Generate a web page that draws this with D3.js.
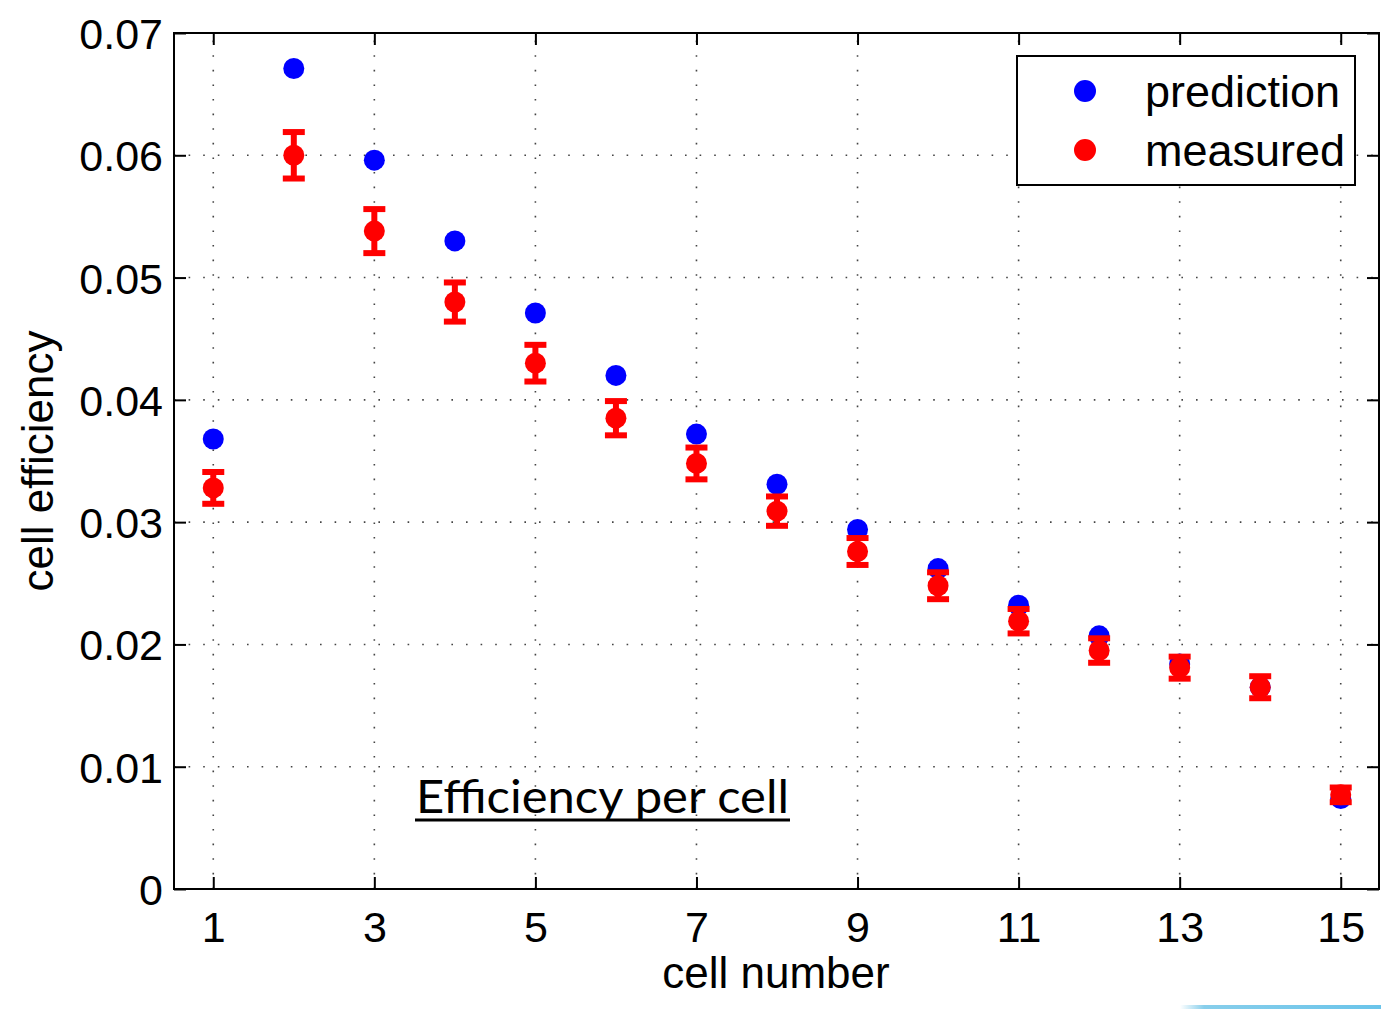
<!DOCTYPE html>
<html><head><meta charset="utf-8">
<script src="https://cdn.jsdelivr.net/npm/d3@7"></script>
<style>
html,body{margin:0;padding:0;background:#fff;}
svg{display:block;}
text{font-family:"Liberation Sans",Arial,Helvetica,sans-serif;fill:#000;}
</style></head>
<body>
<script>
const cells = [1,2,3,4,5,6,7,8,9,10,11,12,13,14,15];
const prediction = [0.0368,0.0671,0.0596,0.0530,0.0471,0.0420,0.0372,0.0331,0.0294,0.0262,0.0232,0.0207,0.0184,0.0165,0.0074];
const measured = [0.0328,0.0600,0.0538,0.0480,0.0430,0.0385,0.0348,0.0309,0.0276,0.0248,0.0219,0.0195,0.0181,0.0165,0.0077];
const measuredErr = [0.0013,0.0019,0.0018,0.0016,0.0015,0.0014,0.0013,0.0012,0.0011,0.0011,0.0010,0.0010,0.0009,0.0009,0.0006];
const xTicks = [1,3,5,7,9,11,13,15];
const yTicks = [0,0.01,0.02,0.03,0.04,0.05,0.06,0.07];
const yTickLabels = ["0","0.01","0.02","0.03","0.04","0.05","0.06","0.07"];
const seriesNames = ["prediction","measured"];
const seriesColors = ["#0000ff","#ff0000"];

const W = 1381, H = 1010;
const L = 174, R = 1379, T = 33, B = 889;

const svg = d3.select("body").append("svg").attr("width", W).attr("height", H);

const x = d3.scaleLinear().domain([0.5, 15.5]).range([173, 1381]);
const y = d3.scaleLinear().domain([0, 0.07]).range([B, T]);

// grid
const grid = svg.append("g").attr("stroke", "#444").attr("stroke-width", 1.6).attr("stroke-dasharray", "1.6,13");
grid.selectAll("line.gx").data(xTicks).join("line")
  .attr("x1", d => x(d)).attr("x2", d => x(d)).attr("y1", B).attr("y2", T);
grid.selectAll("line.gy").data(yTicks.filter(d => d > 0)).join("line")
  .attr("y1", d => y(d)).attr("y2", d => y(d)).attr("x1", L).attr("x2", R);

// frame
svg.append("rect").attr("x", L).attr("y", T).attr("width", R - L).attr("height", B - T)
  .attr("fill", "none").attr("stroke", "#000").attr("stroke-width", 2);

// ticks (inward) using axes
const tickLen = 12;
const xb = svg.append("g").attr("transform", `translate(0,${B})`)
  .call(d3.axisBottom(x).tickValues(xTicks).tickSizeInner(-tickLen).tickSizeOuter(0).tickPadding(22));
const xt = svg.append("g").attr("transform", `translate(0,${T})`)
  .call(d3.axisTop(x).tickValues(xTicks).tickSizeInner(-tickLen).tickSizeOuter(0).tickFormat(""));
const yl = svg.append("g").attr("transform", `translate(${L},0)`)
  .call(d3.axisLeft(y).tickValues(yTicks).tickSizeInner(-tickLen).tickSizeOuter(0).tickPadding(11)
    .tickFormat((d, i) => yTickLabels[i]));
const yr = svg.append("g").attr("transform", `translate(${R},0)`)
  .call(d3.axisRight(y).tickValues(yTicks).tickSizeInner(-tickLen).tickSizeOuter(0).tickFormat(""));
[xb, xt, yl, yr].forEach(g => {
  g.select(".domain").remove();
  g.selectAll(".tick line").attr("stroke", "#000").attr("stroke-width", 2);
  g.selectAll(".tick text").attr("font-family", "Liberation Sans, Arial, sans-serif")
    .attr("font-size", 43).attr("fill", "#000");
});
xb.selectAll(".tick text").attr("dy", "0.71em");
yl.selectAll(".tick text").attr("dy", "0.36em");

// prediction points
svg.append("g").selectAll("circle").data(cells).join("circle")
  .attr("cx", d => x(d)).attr("cy", (d, i) => y(prediction[i])).attr("r", 10.5)
  .attr("fill", seriesColors[0]);

// measured with error bars
const eg = svg.append("g").attr("stroke", seriesColors[1]).attr("stroke-width", 6);
eg.selectAll("line.v").data(cells).join("line")
  .attr("x1", d => x(d)).attr("x2", d => x(d))
  .attr("y1", (d, i) => y(measured[i] + measuredErr[i])).attr("y2", (d, i) => y(measured[i] - measuredErr[i]));
eg.selectAll("line.ct").data(cells).join("line")
  .attr("x1", d => x(d) - 11).attr("x2", d => x(d) + 11)
  .attr("y1", (d, i) => y(measured[i] + measuredErr[i])).attr("y2", (d, i) => y(measured[i] + measuredErr[i]));
eg.selectAll("line.cb").data(cells).join("line")
  .attr("x1", d => x(d) - 11).attr("x2", d => x(d) + 11)
  .attr("y1", (d, i) => y(measured[i] - measuredErr[i])).attr("y2", (d, i) => y(measured[i] - measuredErr[i]));
svg.append("g").selectAll("circle").data(cells).join("circle")
  .attr("cx", d => x(d)).attr("cy", (d, i) => y(measured[i])).attr("r", 10.5)
  .attr("fill", seriesColors[1]);

// legend
const lg = svg.append("g");
lg.append("rect").attr("x", 1017).attr("y", 56).attr("width", 338).attr("height", 129)
  .attr("fill", "#fff").attr("stroke", "#000").attr("stroke-width", 2);
seriesNames.forEach((n, i) => {
  lg.append("circle").attr("cx", 1085).attr("cy", 91 + i * 59).attr("r", 11).attr("fill", seriesColors[i]);
  lg.append("text").attr("x", 1145).attr("y", 91 + i * 59).attr("dy", "0.36em")
    .attr("font-size", 45).text(n);
});

// axis labels
svg.append("text").attr("x", 776).attr("y", 988).attr("text-anchor", "middle")
  .attr("font-size", 44).text("cell number");
svg.append("text").attr("transform", "translate(53,461) rotate(-90)").attr("text-anchor", "middle")
  .attr("font-size", 44).text("cell efficiency");

// annotation
svg.append("text").attr("x", 416).attr("y", 813).attr("font-family", "Lato, 'Open Sans', sans-serif")
  .attr("font-size", 46).attr("textLength", 373).attr("lengthAdjust", "spacingAndGlyphs")
  .style("font-family", "Lato, 'Open Sans', sans-serif").text("Efficiency per cell");
svg.append("line").attr("x1", 415).attr("x2", 790).attr("y1", 820).attr("y2", 820)
  .attr("stroke", "#000").attr("stroke-width", 3);

// decorative bottom-right strip
const defs = svg.append("defs");
const grad = defs.append("linearGradient").attr("id", "strip").attr("x1", "0").attr("x2", "1");
grad.append("stop").attr("offset", "0").attr("stop-color", "#87ceeb").attr("stop-opacity", 0);
grad.append("stop").attr("offset", "0.12").attr("stop-color", "#87ceeb").attr("stop-opacity", 1);
grad.append("stop").attr("offset", "1").attr("stop-color", "#6ac4ea").attr("stop-opacity", 1);
svg.append("rect").attr("x", 1180).attr("y", 1005).attr("width", 201).attr("height", 4).attr("fill", "url(#strip)");
</script>
</body></html>
